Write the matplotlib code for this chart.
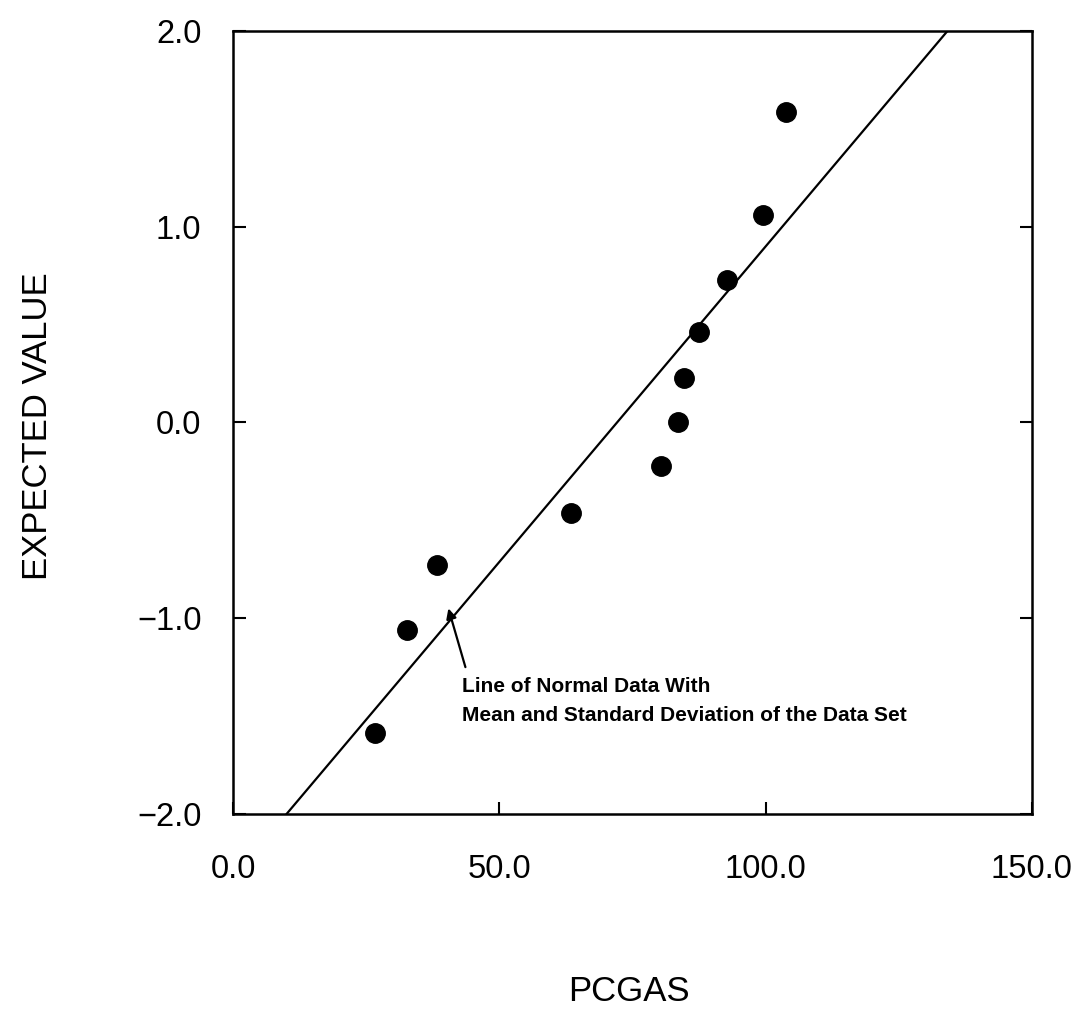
import numpy as np
import matplotlib
matplotlib.use('Agg')
import matplotlib.pyplot as plt

# observed PCGAS values and their expected normal scores
pcgas = [26.7, 32.7, 38.3, 63.5, 80.3, 83.5, 84.6, 87.4, 92.7, 99.6, 103.8]
expected = [-1.586, -1.062, -0.729, -0.462, -0.225, 0.0, 0.225, 0.462, 0.729, 1.062, 1.586]

# line of normal data: mean and standard deviation of the data set
mean = 72.1
sd = 31.05

plt.rcParams['font.family'] = ['Liberation Sans', 'DejaVu Sans']

fig = plt.figure(figsize=(10.78, 10.13), dpi=100)
ax = fig.add_axes([0.2165, 0.1965, 0.7405, 0.773])

ax.plot(pcgas, expected, 'o', color='black', markersize=14)

yy = np.array([-2.0, 2.0])
ax.plot(mean + sd * yy, yy, color='black', linewidth=1.6)

# arrow pointing at the line, and its note
ax.annotate('', xy=(40.4, -0.95), xytext=(43.6, -1.25),
            arrowprops=dict(arrowstyle='-|>', color='black', lw=1.6, mutation_scale=15,
                            shrinkA=0, shrinkB=0))
ax.text(43.0, -1.30, 'Line of Normal Data With\nMean and Standard Deviation of the Data Set',
        fontsize=15, fontweight='bold', ha='left', va='top', linespacing=1.64)

ax.set_xlim(0, 150)
ax.set_ylim(-2, 2)
ax.set_xticks([0, 50, 100, 150])
ax.set_xticklabels(['0.0', '50.0', '100.0', '150.0'])
ax.set_yticks([-2, -1, 0, 1, 2])
ax.set_yticklabels(['\u22122.0', '\u22121.0', '0.0', '1.0', '2.0'])
ax.tick_params(direction='in', length=9, width=1.5, labelsize=23.5, right=True)
ax.tick_params(axis='x', pad=29)
ax.tick_params(axis='y', pad=23)
for s in ax.spines.values():
    s.set_linewidth(1.8)

ax.set_xlabel('PCGAS', fontsize=25, va='center')
ax.set_ylabel('EXPECTED VALUE', fontsize=25, va='center')
ax.xaxis.set_label_coords(0.495, -0.2273)
ax.yaxis.set_label_coords(-0.2456, 0.4955)

fig.savefig('out.png', dpi=100)
